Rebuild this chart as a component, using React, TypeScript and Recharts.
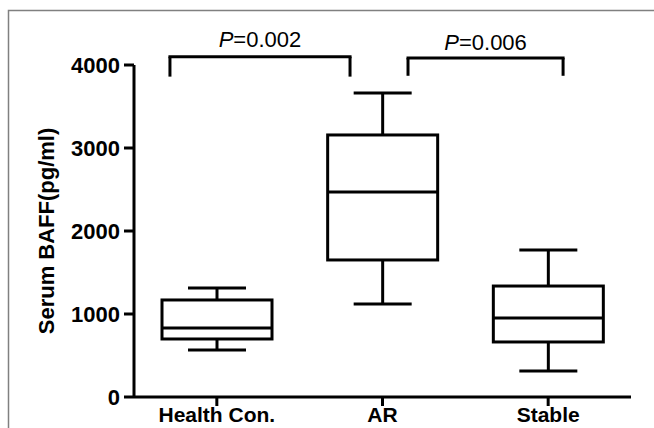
import {
  ComposedChart,
  Bar,
  XAxis,
  YAxis,
  ReferenceLine,
  Customized,
} from 'recharts';

// group positions on the numeric x axis
const groupNames = ['Health Con.', 'AR', 'Stable'];
const groupPos = [1, 2, 3];

// box plot values, pg/ml
const minValues = [566, 1120, 313];
const q1Values = [699, 1651, 663];
const medianValues = [831, 2470, 952];
const q3Values = [1169, 3157, 1337];
const maxValues = [1313, 3663, 1771];

const yTicks = [0, 1000, 2000, 3000, 4000];

// significance brackets
const bracketFrom = [0.717, 2.154];
const bracketTo = [1.804, 3.09];
const bracketTop = [4100, 4085];
const bracketFoot = [3860, 3870];
const pValues = ['0.002', '0.006'];
const pGap = [10, 8];

const FONT = '"Liberation Sans", Arial, sans-serif';
const LINE = 3;

const data = groupPos.map((x, i) => ({
  x,
  name: groupNames[i],
  min: minValues[i],
  q1: q1Values[i],
  median: medianValues[i],
  q3: q3Values[i],
  max: maxValues[i],
}));

function BoxShape(props: any) {
  const { x, y, width, height, payload } = props;
  const top = Math.min(y, y + height);
  const bot = Math.max(y, y + height);
  const { min, q1, median, q3, max } = payload;
  const py = (v: number) => bot - ((v - min) / (max - min)) * (bot - top);
  const cx = x + width / 2;
  const cap = 29;
  return (
    <g stroke="#000" strokeWidth={LINE} fill="none">
      <line x1={cx} x2={cx} y1={py(max)} y2={py(q3)} />
      <line x1={cx} x2={cx} y1={py(q1)} y2={py(min)} />
      <line x1={cx - cap} x2={cx + cap} y1={py(max)} y2={py(max)} />
      <line x1={cx - cap} x2={cx + cap} y1={py(min)} y2={py(min)} />
      <rect x={x} y={py(q3)} width={width} height={py(q1) - py(q3)} />
      <line x1={x} x2={x + width} y1={py(median)} y2={py(median)} />
    </g>
  );
}

function PLabel(props: any) {
  const { viewBox, value, gap } = props;
  const cx = viewBox.x + viewBox.width / 2;
  return (
    <text
      x={cx}
      y={viewBox.y - gap}
      textAnchor="middle"
      fontFamily={FONT}
      fontSize={22}
      fill="#000"
    >
      <tspan fontStyle="italic">P</tspan>={value}
    </text>
  );
}

function Frame() {
  return (
    <g>
      <path d="M8.5 428 V10.5 H654" fill="none" stroke="#808080" strokeWidth={1.5} />
      <text
        transform="translate(54 231) rotate(-90)"
        textAnchor="middle"
        fontFamily={FONT}
        fontSize={22}
        fontWeight="bold"
        fill="#000"
      >
        Serum BAFF(pg/ml)
      </text>
    </g>
  );
}

export default function App() {
  return (
    <div style={{ position: 'absolute', left: 0, top: 0, background: '#fff' }}>
      <ComposedChart
        width={654}
        height={428}
        data={data}
        margin={{ top: 65, right: 23, bottom: 0, left: 0 }}
      >
        <Customized component={Frame} />
        <XAxis
          dataKey="x"
          type="number"
          domain={[0.5, 3.5]}
          ticks={groupPos}
          tickFormatter={(v: number) => groupNames[groupPos.indexOf(v)] ?? ''}
          height={31}
          tickSize={9}
          tickMargin={1}
          axisLine={{ stroke: '#000', strokeWidth: LINE }}
          tickLine={{ stroke: '#000', strokeWidth: LINE }}
          tick={{ fill: '#000', fontSize: 21, fontWeight: 'bold', fontFamily: FONT }}
          interval={0}
        />
        <YAxis
          type="number"
          domain={[0, 4000]}
          ticks={yTicks}
          width={134}
          tickSize={10}
          tickMargin={4}
          axisLine={{ stroke: '#000', strokeWidth: LINE }}
          tickLine={{ stroke: '#000', strokeWidth: LINE }}
          tick={{ fill: '#000', fontSize: 22, fontWeight: 'bold', fontFamily: FONT }}
        />
        <Bar
          dataKey={(d: any) => [d.min, d.max]}
          barSize={110}
          shape={BoxShape}
          isAnimationActive={false}
        />
        {pValues.map((p, i) => (
          <ReferenceLine
            key={`top-${i}`}
            segment={[
              { x: bracketFrom[i], y: bracketTop[i] },
              { x: bracketTo[i], y: bracketTop[i] },
            ]}
            ifOverflow="visible"
            stroke="#000"
            strokeWidth={LINE}
            strokeLinecap="square"
            label={<PLabel value={p} gap={pGap[i]} />}
          />
        ))}
        {pValues.map((p, i) => (
          <ReferenceLine
            key={`left-${i}`}
            segment={[
              { x: bracketFrom[i], y: bracketTop[i] },
              { x: bracketFrom[i], y: bracketFoot[i] },
            ]}
            ifOverflow="visible"
            stroke="#000"
            strokeWidth={LINE}
          />
        ))}
        {pValues.map((p, i) => (
          <ReferenceLine
            key={`right-${i}`}
            segment={[
              { x: bracketTo[i], y: bracketTop[i] },
              { x: bracketTo[i], y: bracketFoot[i] },
            ]}
            ifOverflow="visible"
            stroke="#000"
            strokeWidth={LINE}
          />
        ))}
      </ComposedChart>
    </div>
  );
}
